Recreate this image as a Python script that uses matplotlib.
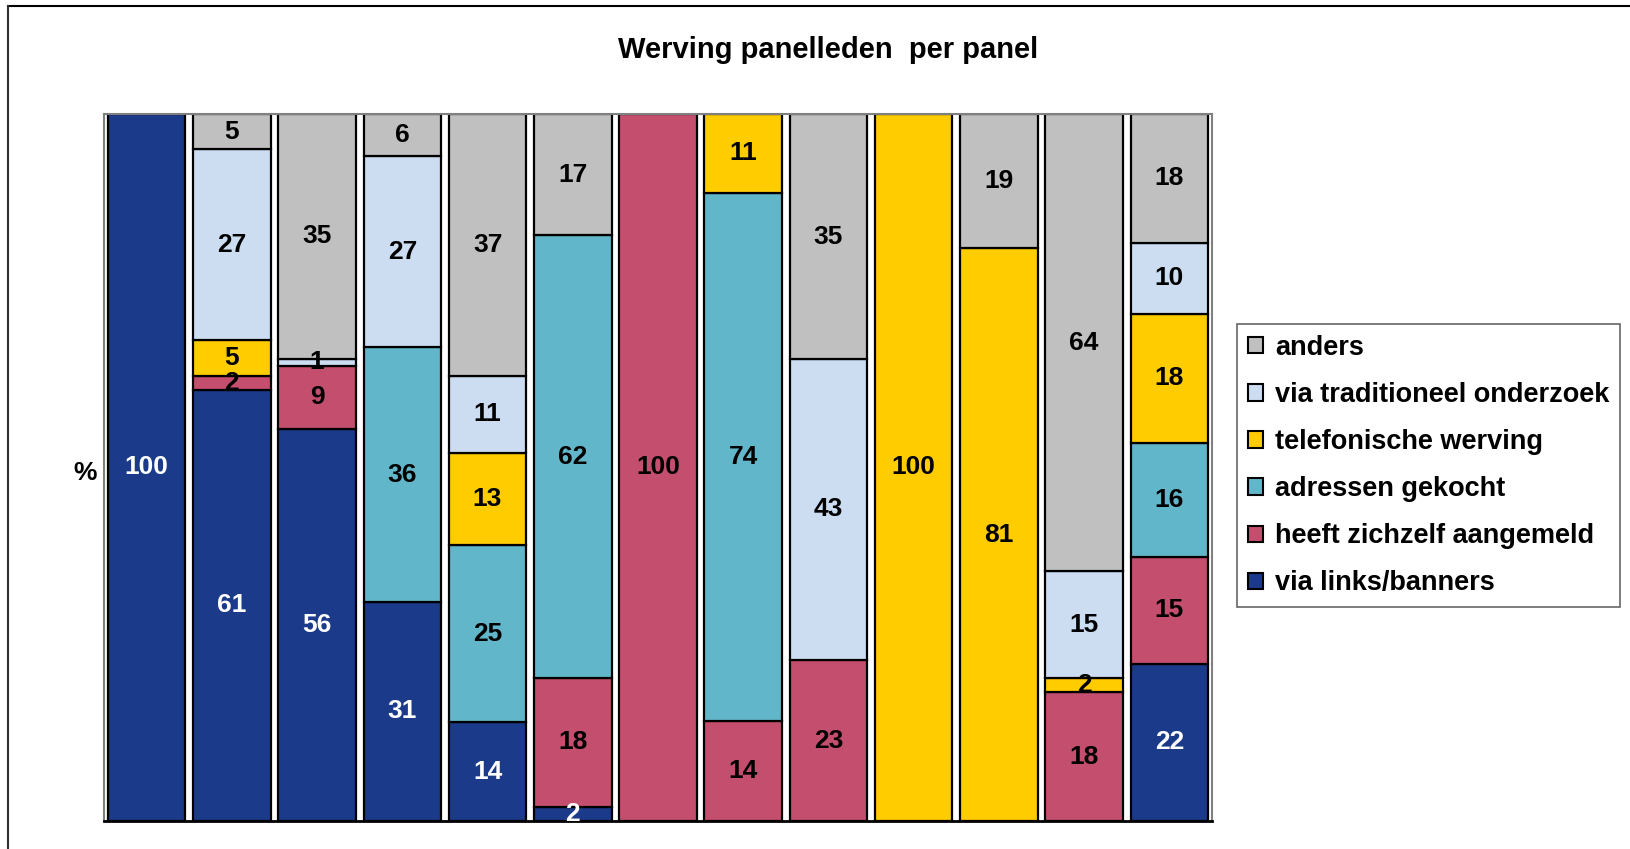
import matplotlib
matplotlib.use("Agg")
import matplotlib.pyplot as plt
from matplotlib.lines import Line2D
from matplotlib.patches import Patch
import numpy as np

plt.rcParams['font.family'] = ['Liberation Sans', 'DejaVu Sans']

# Panels (13 bars, no category labels shown)
panels = [f"Panel {i}" for i in range(1, 14)]

# Series, bottom to top of each stack
series_names = ["via links/banners", "heeft zichzelf aangemeld", "adressen gekocht",
                "telefonische werving", "via traditioneel onderzoek", "anders"]
series_colors = ["#1B3A8A", "#C44E6E", "#62B6CA", "#FFCC00", "#CCDDF2", "#C0C0C0"]
label_colors = ["white", "black", "black", "black", "black", "black"]

links         = [100, 61, 56, 31, 14,  2,   0,  0,  0,   0,  0,  0, 22]
zelf          = [  0,  2,  9,  0,  0, 18, 100, 14, 23,   0,  0, 18, 15]
adressen      = [  0,  0,  0, 36, 25, 62,   0, 74,  0,   0,  0,  0, 16]
telefonisch   = [  0,  5,  0,  0, 13,  0,   0, 11,  0, 100, 81,  2, 18]
traditioneel  = [  0, 27,  1, 27, 11,  0,   0,  0, 43,   0,  0, 15, 10]
anders        = [  0,  5, 35,  6, 37, 17,   0,  0, 35,   0, 19, 64, 18]

data = np.array([links, zelf, adressen, telefonisch, traditioneel, anders], dtype=float)
totals = data.sum(axis=0)
shares = data / totals * 100  # 100% stacked

fig = plt.figure(figsize=(16.30, 8.49), dpi=100)
ax = fig.add_axes([104 / 1630, 1 - 821 / 849, (1212 - 104) / 1630, (821 - 114) / 849])

x = np.arange(len(panels))
bottom = np.zeros(len(panels))
for k in range(len(series_names)):
    for i in x:
        v = shares[k, i]
        if data[k, i] <= 0:
            continue
        ax.bar(i, v, bottom=bottom[i], width=0.91, color=series_colors[k],
               edgecolor="black", linewidth=1.6, zorder=2)
        ax.text(i, bottom[i] + v / 2, f"{int(data[k, i])}", ha="center", va="center",
                fontsize=19, fontweight="bold", color=label_colors[k], zorder=3)
    bottom += shares[k]

ax.set_xlim(-0.5, len(panels) - 0.5)
ax.set_ylim(0, 100)
ax.set_xticks([])
ax.set_yticks([])
for s in ["left", "right", "top"]:
    ax.spines[s].set_color("#808080")
    ax.spines[s].set_linewidth(1.5)
ax.spines["bottom"].set_color("black")
ax.spines["bottom"].set_linewidth(2)

fig.text(85 / 1630, 1 - 473 / 849, "%", ha="center", va="center",
         fontsize=19, fontweight="bold")

fig.text(828 / 1630, 1 - 50 / 849, "Werving panelleden  per panel", ha="center",
         va="center", fontsize=21, fontweight="bold")

# Legend, top entry first
handles = [Patch(facecolor=series_colors[k], edgecolor="black", linewidth=1.5)
           for k in reversed(range(len(series_names)))]
labels = list(reversed(series_names))
leg = fig.legend(handles, labels, loc="upper left",
                 bbox_to_anchor=(1237 / 1630, 1 - 324 / 849),
                 prop={"weight": "bold", "size": 19.5}, frameon=True, fancybox=False,
                 edgecolor="#404040", handlelength=0.55, handleheight=0.55,
                 handletextpad=0.45, labelspacing=0.78, borderpad=0.4,
                 borderaxespad=0)
leg.get_frame().set_linewidth(1.2)

# Outer frame (top and left edges visible)
fig.add_artist(Line2D([8 / 1630, 1], [1 - 6 / 849, 1 - 6 / 849], color="black",
                      linewidth=1.5, transform=fig.transFigure))
fig.add_artist(Line2D([8 / 1630, 8 / 1630], [0, 1 - 6 / 849], color="#303030",
                      linewidth=1.5, transform=fig.transFigure))

fig.savefig("out.png", dpi=100)
